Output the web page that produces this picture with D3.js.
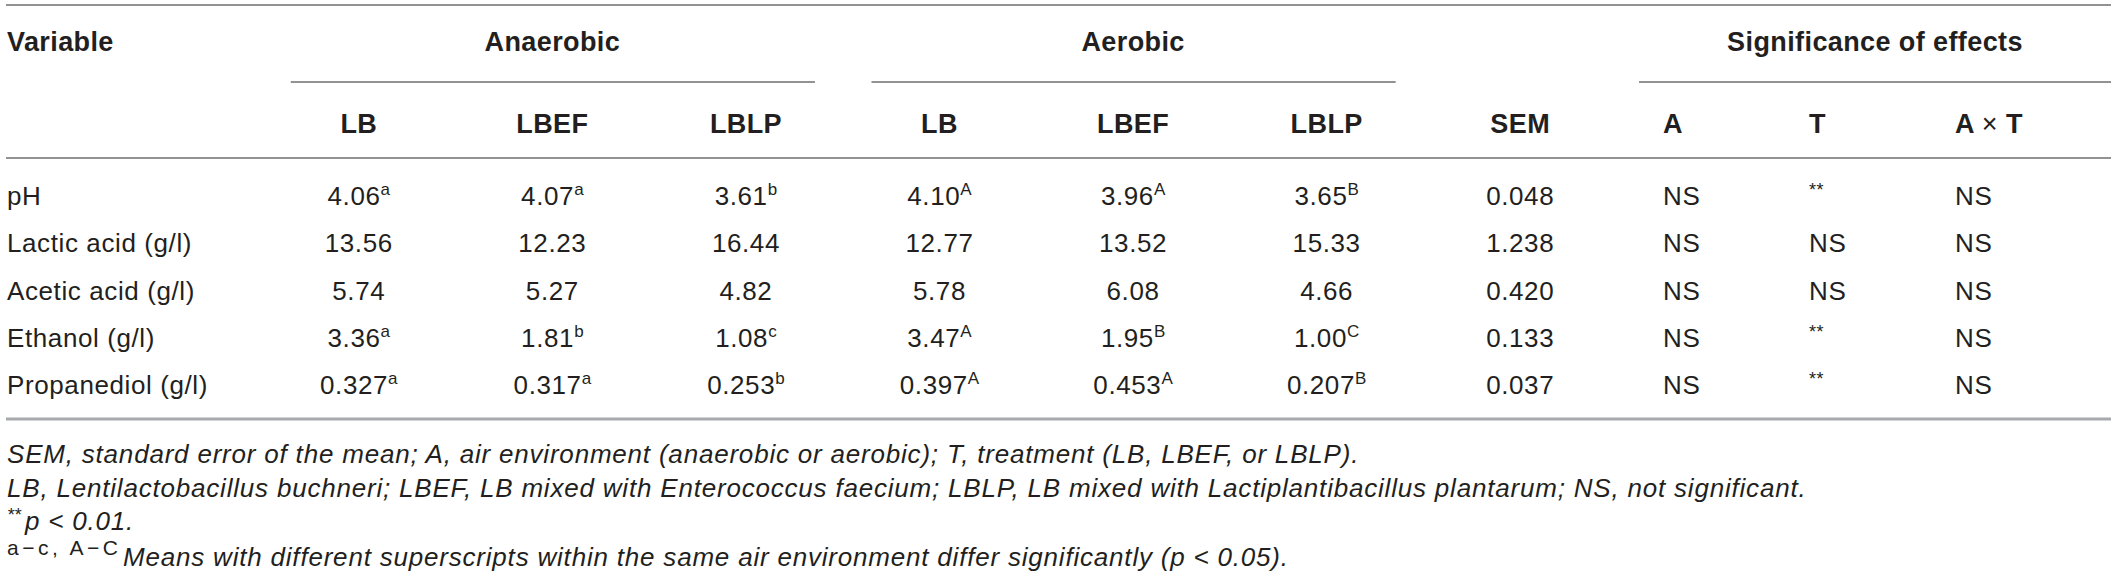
<!DOCTYPE html>
<html>
<head>
<meta charset="utf-8">
<script src="https://cdn.jsdelivr.net/npm/d3@7"></script>
<style>
  html, body { margin: 0; padding: 0; background: #fff; }
  svg text { font-family: "Liberation Sans", Arial, Helvetica, sans-serif; fill: #231f20; }
</style>
</head>
<body>
<div id="chart"></div>
<script>
// table content
const variables = ['pH', 'Lactic acid (g/l)', 'Acetic acid (g/l)', 'Ethanol (g/l)', 'Propanediol (g/l)'];
const treatments = ['LB', 'LBEF', 'LBLP'];
const environments = ['Anaerobic', 'Aerobic'];
const effects = ['A', 'T', 'A × T'];
const decimals = [2, 2, 2, 2, 3];

// means per variable: LB, LBEF, LBLP
const anaerobicMeans = [
  [4.06, 4.07, 3.61],
  [13.56, 12.23, 16.44],
  [5.74, 5.27, 4.82],
  [3.36, 1.81, 1.08],
  [0.327, 0.317, 0.253]
];
const anaerobicLetters = [
  ['a', 'a', 'b'],
  ['', '', ''],
  ['', '', ''],
  ['a', 'b', 'c'],
  ['a', 'a', 'b']
];
const aerobicMeans = [
  [4.10, 3.96, 3.65],
  [12.77, 13.52, 15.33],
  [5.78, 6.08, 4.66],
  [3.47, 1.95, 1.00],
  [0.397, 0.453, 0.207]
];
const aerobicLetters = [
  ['A', 'A', 'B'],
  ['', '', ''],
  ['', '', ''],
  ['A', 'B', 'C'],
  ['A', 'A', 'B']
];
const semValues = [0.048, 1.238, 0.420, 0.133, 0.037];
const effectA = ['NS', 'NS', 'NS', 'NS', 'NS'];
const effectT = ['**', 'NS', 'NS', '**', '**'];
const effectAxT = ['NS', 'NS', 'NS', 'NS', 'NS'];

const footnotes = [
  'SEM, standard error of the mean; A, air environment (anaerobic or aerobic); T, treatment (LB, LBEF, or LBLP).',
  'LB, Lentilactobacillus buchneri; LBEF, LB mixed with Enterococcus faecium; LBLP, LB mixed with Lactiplantibacillus plantarum; NS, not significant.',
  'p < 0.01.',
  'Means with different superscripts within the same air environment differ significantly (p < 0.05).'
];
const footnoteMarks = ['', '', '**', 'a−c, A−C'];

const width = 2118;
const height = 579;
const lineLeft = 6;
const lineRight = 2111;

const svg = d3.select('#chart')
  .append('svg')
  .attr('width', width)
  .attr('height', height);

// column keys for the numeric part of the table
const numericCols = [];
environments.forEach(env => treatments.forEach(t => numericCols.push(env + '|' + t)));
numericCols.push('SEM');

const xCol = d3.scaleBand()
  .domain(numericCols)
  .range([262, 1617]);
const xCenter = k => xCol(k) + xCol.bandwidth() / 2;

const xEffect = d3.scalePoint()
  .domain(effects)
  .range([1663, 1955]);

const yRow = d3.scalePoint()
  .domain(variables)
  .range([205, 394]);

// horizontal rules
function rule(x1, x2, y, color, w) {
  svg.append('line')
    .attr('x1', x1).attr('x2', x2)
    .attr('y1', y).attr('y2', y)
    .attr('stroke', color)
    .attr('stroke-width', w);
}
rule(lineLeft, lineRight, 5, '#6d6e70', 1.6);
rule(lineLeft, lineRight, 158, '#6d6e70', 1.6);
rule(lineLeft, lineRight, 419, '#a7a9ac', 3);

environments.forEach(env => {
  const first = xCenter(env + '|' + treatments[0]);
  const last = xCenter(env + '|' + treatments[treatments.length - 1]);
  rule(first - 68, last + 69, 82, '#6d6e70', 1.6);
});
rule(xEffect(effects[0]) - 24, lineRight, 82, '#6d6e70', 1.6);

// header
const header = svg.append('g')
  .style('font-weight', 'bold')
  .style('font-size', '27px')
  .style('letter-spacing', '0.4px');

header.append('text')
  .attr('x', 7).attr('y', 51)
  .text('Variable');

environments.forEach(env => {
  header.append('text')
    .attr('x', xCenter(env + '|' + treatments[1]))
    .attr('y', 51)
    .attr('text-anchor', 'middle')
    .text(env);
  treatments.forEach(t => {
    header.append('text')
      .attr('x', xCenter(env + '|' + t))
      .attr('y', 133)
      .attr('text-anchor', 'middle')
      .text(t);
  });
});

header.append('text')
  .attr('x', xCenter('SEM'))
  .attr('y', 133)
  .attr('text-anchor', 'middle')
  .text('SEM');

header.append('text')
  .attr('x', (xEffect(effects[0]) - 24 + lineRight) / 2)
  .attr('y', 51)
  .attr('text-anchor', 'middle')
  .text('Significance of effects');

effects.forEach(e => {
  const t = header.append('text')
    .attr('x', xEffect(e))
    .attr('y', 133);
  if (e.indexOf('×') >= 0) {
    const parts = e.split('×');
    t.append('tspan').text(parts[0]);
    t.append('tspan').style('font-weight', 'normal').text('×');
    t.append('tspan').text(parts[1]);
  } else {
    t.text(e);
  }
});

// body
const body = svg.append('g')
  .style('font-size', '26px')
  .style('letter-spacing', '0.6px');

function valueCell(x, y, main, sup) {
  const t = body.append('text')
    .attr('x', x)
    .attr('y', y)
    .attr('text-anchor', 'middle');
  t.append('tspan').text(main);
  if (sup) {
    t.append('tspan')
      .attr('dy', -10)
      .style('font-size', '17px')
      .style('letter-spacing', '0px')
      .text(sup);
  }
}

variables.forEach((v, i) => {
  const y = yRow(v);
  body.append('text')
    .attr('x', 7)
    .attr('y', y)
    .text(v);

  treatments.forEach((t, j) => {
    valueCell(xCenter('Anaerobic|' + t), y,
      anaerobicMeans[i][j].toFixed(decimals[i]), anaerobicLetters[i][j]);
    valueCell(xCenter('Aerobic|' + t), y,
      aerobicMeans[i][j].toFixed(decimals[i]), aerobicLetters[i][j]);
  });

  valueCell(xCenter('SEM'), y, semValues[i].toFixed(3), '');

  [effectA, effectT, effectAxT].forEach((col, k) => {
    const txt = body.append('text')
      .attr('x', xEffect(effects[k]))
      .attr('y', y);
    if (col[i] === '**') {
      txt.append('tspan')
        .attr('dy', -9)
        .style('font-size', '18px')
        .text(col[i]);
    } else {
      txt.text(col[i]);
    }
  });
});

// footnotes
const notes = svg.append('g')
  .style('font-size', '26px')
  .style('font-style', 'italic')
  .style('letter-spacing', '0.8px');

const noteY = [463, 497, 530, 566];
footnotes.forEach((n, i) => {
  const mark = footnoteMarks[i];
  let x = 7;
  if (mark === '**') {
    notes.append('text')
      .attr('x', x)
      .attr('y', noteY[i] - 9)
      .style('font-size', '18px')
      .style('letter-spacing', '0px')
      .text(mark);
    x = 25;
  } else if (mark) {
    notes.append('text')
      .attr('x', x)
      .attr('y', noteY[i] - 11)
      .attr('textLength', 111)
      .attr('lengthAdjust', 'spacing')
      .style('font-size', '21px')
      .style('font-style', 'normal')
      .style('letter-spacing', '0px')
      .text(mark);
    x = 123;
  }
  notes.append('text')
    .attr('x', x)
    .attr('y', noteY[i])
    .text(n);
});
</script>
</body>
</html>
